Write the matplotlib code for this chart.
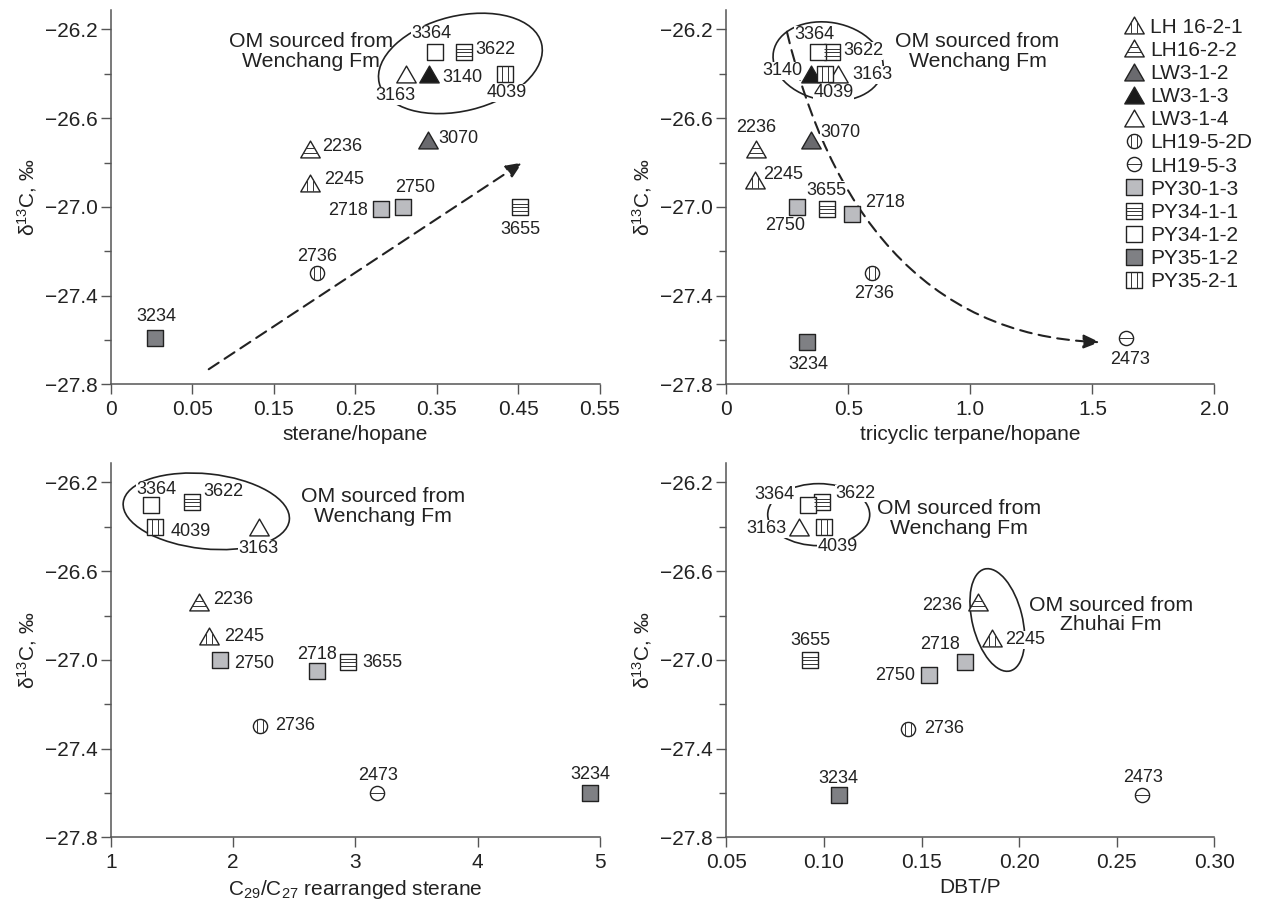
import numpy as np
import matplotlib
matplotlib.use('Agg')
from matplotlib import pyplot as plt
from matplotlib.path import Path
from matplotlib.patches import Ellipse, FancyArrowPatch
from matplotlib.lines import Line2D
from matplotlib.ticker import FixedLocator
from matplotlib.transforms import ScaledTranslation

plt.rcParams['font.family'] = ['Liberation Sans', 'DejaVu Sans']
plt.rcParams['mathtext.fontset'] = 'custom'
plt.rcParams['mathtext.rm'] = 'Liberation Sans'
plt.rcParams['mathtext.it'] = 'Liberation Sans:italic'

# oil groups and which sample (depth, m) belongs to which
groups = ['LH 16-2-1', 'LH16-2-2', 'LW3-1-2', 'LW3-1-3', 'LW3-1-4', 'LH19-5-2D',
          'LH19-5-3', 'PY30-1-3', 'PY34-1-1', 'PY34-1-2', 'PY35-1-2', 'PY35-2-1']
group_of = {'2245': 'LH 16-2-1', '2236': 'LH16-2-2', '3070': 'LW3-1-2',
            '3140': 'LW3-1-3', '3163': 'LW3-1-4', '2736': 'LH19-5-2D',
            '2473': 'LH19-5-3', '2718': 'PY30-1-3', '2750': 'PY30-1-3',
            '3622': 'PY34-1-1', '3655': 'PY34-1-1', '3364': 'PY34-1-2',
            '3234': 'PY35-1-2', '4039': 'PY35-2-1'}

# sterane/hopane vs d13C
sh_depth = ['2245', '2236', '3070', '3140', '3163', '2736', '2718', '2750',
            '3622', '3655', '3364', '3234', '4039']
sh_x = [0.194, 0.194, 0.339, 0.341, 0.312, 0.203, 0.282, 0.308,
        0.384, 0.452, 0.348, 0.004, 0.434]
sh_y = [-26.89, -26.74, -26.70, -26.40, -26.40, -27.30, -27.01, -27.00,
        -26.30, -27.00, -26.30, -27.59, -26.40]

# tricyclic terpane/hopane vs d13C
tt_depth = ['2245', '2236', '3070', '3140', '3163', '2736', '2473', '2718',
            '2750', '3622', '3655', '3364', '3234', '4039']
tt_x = [0.116, 0.121, 0.346, 0.346, 0.459, 0.597, 1.639, 0.513,
        0.290, 0.433, 0.413, 0.374, 0.332, 0.403]
tt_y = [-26.88, -26.74, -26.70, -26.40, -26.40, -27.30, -27.59, -27.03,
        -27.00, -26.30, -27.01, -26.30, -27.61, -26.40]

# C29/C27 rearranged sterane vs d13C
rs_depth = ['2245', '2236', '3163', '2736', '2473', '2718', '2750', '3622',
            '3655', '3364', '3234', '4039']
rs_x = [1.80, 1.72, 2.21, 2.22, 3.18, 2.69, 1.89, 1.665,
        2.94, 1.33, 4.92, 1.36]
rs_y = [-26.89, -26.74, -26.40, -27.30, -27.60, -27.05, -27.00, -26.29,
        -27.01, -26.30, -27.60, -26.40]

# DBT/P vs d13C
dp_depth = ['2245', '2236', '3163', '2736', '2473', '2718', '2750', '3622',
            '3655', '3364', '3234', '4039']
dp_x = [0.186, 0.179, 0.087, 0.143, 0.263, 0.172, 0.154, 0.099,
        0.093, 0.092, 0.1075, 0.100]
dp_y = [-26.90, -26.74, -26.40, -27.31, -27.61, -27.01, -27.07, -26.29,
        -27.00, -26.30, -27.61, -26.40]

# label offsets in pixels (dx right, dy up)
sh_off = {'3364': (-4, 18), '3622': (31, 2), '3163': (-10, -22), '3140': (33, -4),
          '4039': (2, -19), '3070': (31, 2), '2236': (32, 3), '2245': (34, 3),
          '2718': (-33, -1), '2750': (13, 19), '3655': (1, -23), '2736': (0, 17),
          '3234': (1, 21)}
tt_off = {'3364': (-3, 17), '3622': (31, 1), '3140': (-28, 3), '4039': (9, -19),
          '3163': (34, -1), '2236': (0, 22), '2245': (28, 6), '3070': (30, 8),
          '2750': (-12, -19), '3655': (-1, 19), '2718': (34, 11), '2736': (2, -20),
          '3234': (1, -22), '2473': (4, -22)}
rs_off = {'3364': (5, 15), '3622': (31, 11), '4039': (36, -5), '3163': (0, -22),
          '2236': (34, 3), '2245': (35, -1), '2750': (34, -4), '2718': (0, 17),
          '3655': (34, 0), '2736': (35, 1), '2473': (1, 17), '3234': (0, 18)}
dp_off = {'3364': (-34, 10), '3622': (33, 9), '3163': (-32, -2), '4039': (14, -20),
          '2236': (-36, -3), '2245': (33, -2), '3655': (0, 19), '2718': (-24, 18),
          '2750': (-34, 0), '2736': (36, 0), '3234': (0, 17), '2473': (1, 18)}

INK = '#222222'
AXC = '#555555'
MV, LN, CL = Path.MOVETO, Path.LINETO, Path.CLOSEPOLY
T = np.sqrt(3) / 2


def shape(kind):
    if kind == 's':
        return Path([(-1, -1), (1, -1), (1, 1), (-1, 1), (-1, -1)], [MV, LN, LN, LN, CL])
    if kind == '^':
        return Path([(0, T), (-1, -T), (1, -T), (0, T)], [MV, LN, LN, CL])
    return Path.unit_circle()


def inner(kind, hlines=(), vlines=()):
    # corner anchors keep the same scaling as the outline
    verts = [(-1, -1), (1, 1)]
    codes = [MV, MV]
    for v in vlines:
        if kind == 's':
            a, b = -1, 1
        elif kind == '^':
            a, b = -T, T - 2 * T * abs(v)
        else:
            a, b = -np.sqrt(1 - v * v), np.sqrt(1 - v * v)
        verts += [(v, a), (v, b)]
        codes += [MV, LN]
    for h in hlines:
        if kind == 's':
            a, b = -1, 1
        elif kind == '^':
            hw = (T - h) / (2 * T)
            a, b = -hw, hw
        else:
            a, b = -np.sqrt(1 - h * h), np.sqrt(1 - h * h)
        verts += [(a, h), (b, h)]
        codes += [MV, LN]
    return Path(verts, codes)


# marker style per group: shape, fill, inner hatch lines
style = {
    'LH 16-2-1': ('^', 'white', inner('^', vlines=(-0.28, 0.28))),
    'LH16-2-2': ('^', 'white', inner('^', hlines=(-0.4, 0.1))),
    'LW3-1-2': ('^', '#6a6a6e', None),
    'LW3-1-3': ('^', '#1a1a1a', None),
    'LW3-1-4': ('^', 'white', None),
    'LH19-5-2D': ('o', 'white', inner('o', vlines=(-0.36, 0.36))),
    'LH19-5-3': ('o', 'white', inner('o', hlines=(0,))),
    'PY30-1-3': ('s', '#bbbcc0', None),
    'PY34-1-1': ('s', 'white', inner('s', hlines=(-0.45, 0, 0.45))),
    'PY34-1-2': ('s', 'white', None),
    'PY35-1-2': ('s', '#7f8084', None),
    'PY35-2-1': ('s', 'white', inner('s', vlines=(-0.33, 0.33))),
}
msize = {'s': 11.2, '^': 14.0, 'o': 10.2}


def markers(ax, xs, ys, g):
    kind, fc, lines = style[g]
    h1, = ax.plot(xs, ys, ls='none', marker=shape(kind), ms=msize[kind],
                  mfc=fc, mec=INK, mew=1.0, zorder=4)
    if lines is None:
        return h1
    h2, = ax.plot(xs, ys, ls='none', marker=lines, ms=msize[kind],
                  mfc='none', mec='#333333', mew=0.7, zorder=5)
    return (h1, h2)


def scatter_panel(ax, depth, xs, ys, offs):
    for g in groups:
        idx = [i for i, d in enumerate(depth) if group_of[d] == g]
        if idx:
            markers(ax, [xs[i] for i in idx], [ys[i] for i in idx], g)
    for d, x, y in zip(depth, xs, ys):
        dx, dy = offs[d]
        ax.annotate(d, (x, y), xytext=(dx * 0.72, dy * 0.72), textcoords='offset points',
                    ha='center', va='center', fontsize=13, color=INK, zorder=3,
                    bbox=dict(fc='white', ec='none', pad=0.2))


def ellipse(ax, cx, cy, w, h, ang):
    tr = fig.dpi_scale_trans + ScaledTranslation(cx, cy, ax.transData)
    ax.add_patch(Ellipse((0, 0), w / 100, h / 100, angle=ang, transform=tr,
                         fill=False, ec=INK, lw=1.2, zorder=2))


def note(ax, x, y, s):
    ax.text(x, y, s, ha='center', va='center', fontsize=15.3, color=INK,
            linespacing=1.05, zorder=3)


def setup(ax, xlim, xt, xtl, xlabel):
    ax.set_xlim(*xlim)
    ax.set_ylim(-27.8, -26.11)
    ax.set_xticks(xt)
    ax.set_xticklabels(xtl)
    yt = [-26.2, -26.6, -27.0, -27.4, -27.8]
    ax.set_yticks(yt)
    ax.set_yticklabels([f'{v:.1f}'.replace('-', '\u2212') for v in yt])
    ax.yaxis.set_minor_locator(FixedLocator([-26.4, -26.8, -27.2, -27.6]))
    for s in ['top', 'right']:
        ax.spines[s].set_visible(False)
    for s in ['left', 'bottom']:
        ax.spines[s].set_color(AXC)
        ax.spines[s].set_linewidth(1.1)
    ax.tick_params(which='major', length=7.2, width=1.0, color=AXC,
                   labelsize=15, labelcolor=INK)
    ax.tick_params(axis='x', pad=4)
    ax.tick_params(axis='y', pad=2.5)
    ax.tick_params(which='minor', length=5.4, width=1.0, color=AXC)
    ax.set_xlabel(xlabel, fontsize=15, color=INK)
    ax.set_ylabel('\u03b4$^{13}$C, \u2030', fontsize=15, color=INK)
    ax.xaxis.set_label_coords(0.5, -0.108)
    ax.yaxis.set_label_coords(-0.148, 0.5)


fig = plt.figure(figsize=(12.67, 8.99), dpi=100)
ax1 = fig.add_axes([0.0876, 0.5725, 0.3857, 0.4169])
ax2 = fig.add_axes([0.5733, 0.5725, 0.3852, 0.4169])
ax3 = fig.add_axes([0.0876, 0.0686, 0.3857, 0.4169])
ax4 = fig.add_axes([0.5733, 0.0686, 0.3852, 0.4169])

# sterane/hopane
scatter_panel(ax1, sh_depth, sh_x, sh_y, sh_off)
ellipse(ax1, 0.379, -26.353, 167, 95, 13.7)
note(ax1, 0.196, -26.30, 'OM sourced from\nWenchang Fm')
ax1.add_patch(FancyArrowPatch((0.070, -27.732), (0.455, -26.80),
                              arrowstyle='-|>,head_length=0.7,head_width=0.3',
                              mutation_scale=14, color=INK, lw=1.5,
                              linestyle=(0, (5.7, 3.4)), shrinkA=0, shrinkB=0, zorder=2))
setup(ax1, (-0.05, 0.55), np.arange(-0.05, 0.56, 0.1),
      ['0', '0.05', '0.15', '0.25', '0.35', '0.45', '0.55'], 'sterane/hopane')

# tricyclic terpane/hopane
scatter_panel(ax2, tt_depth, tt_x, tt_y, tt_off)
ellipse(ax2, 0.417, -26.344, 111, 78, -10)
note(ax2, 1.029, -26.30, 'OM sourced from\nWenchang Fm')
curve = Path([(0.248, -26.21), (0.42, -27.0), (0.80, -27.58), (1.53, -27.61)],
             [Path.MOVETO, Path.CURVE4, Path.CURVE4, Path.CURVE4])
ax2.add_patch(FancyArrowPatch(path=curve,
                              arrowstyle='-|>,head_length=0.7,head_width=0.3',
                              mutation_scale=14, color=INK, lw=1.5,
                              linestyle=(0, (5.7, 3.4)), zorder=2))
setup(ax2, (0, 2.0), [0, 0.5, 1.0, 1.5, 2.0], ['0', '0.5', '1.0', '1.5', '2.0'],
      'tricyclic terpane/hopane')

# legend
handles = []
for g in groups:
    kind, fc, lines = style[g]
    h1 = Line2D([], [], ls='none', marker=shape(kind), ms=msize[kind],
                mfc=fc, mec=INK, mew=1.0)
    if lines is None:
        handles.append(h1)
    else:
        h2 = Line2D([], [], ls='none', marker=lines, ms=msize[kind],
                    mfc='none', mec='#333333', mew=0.7)
        handles.append((h1, h2))
ax2.legend(handles, groups, loc='upper left', bbox_to_anchor=(0.8868, 0.9805),
           bbox_transform=fig.transFigure, frameon=False, fontsize=15,
           handlelength=1.0, handletextpad=0.27, labelspacing=0.2, borderpad=0,
           borderaxespad=0, labelcolor=INK)

# C29/C27 rearranged sterane
scatter_panel(ax3, rs_depth, rs_x, rs_y, rs_off)
ellipse(ax3, 1.78, -26.33, 167, 75, -6)
note(ax3, 3.226, -26.307, 'OM sourced from\nWenchang Fm')
setup(ax3, (1, 5), [1, 2, 3, 4, 5], ['1', '2', '3', '4', '5'],
      'C$_{29}$/C$_{27}$ rearranged sterane')

# DBT/P
scatter_panel(ax4, dp_depth, dp_x, dp_y, dp_off)
ellipse(ax4, 0.0973, -26.345, 102, 62, 0)
ellipse(ax4, 0.1888, -26.82, 50, 105, 14)
note(ax4, 0.169, -26.363, 'OM sourced from\nWenchang Fm')
note(ax4, 0.247, -26.798, 'OM sourced from\nZhuhai Fm')
setup(ax4, (0.05, 0.30), [0.05, 0.10, 0.15, 0.20, 0.25, 0.30],
      ['0.05', '0.10', '0.15', '0.20', '0.25', '0.30'], 'DBT/P')

fig.savefig('out.png', dpi=100)
